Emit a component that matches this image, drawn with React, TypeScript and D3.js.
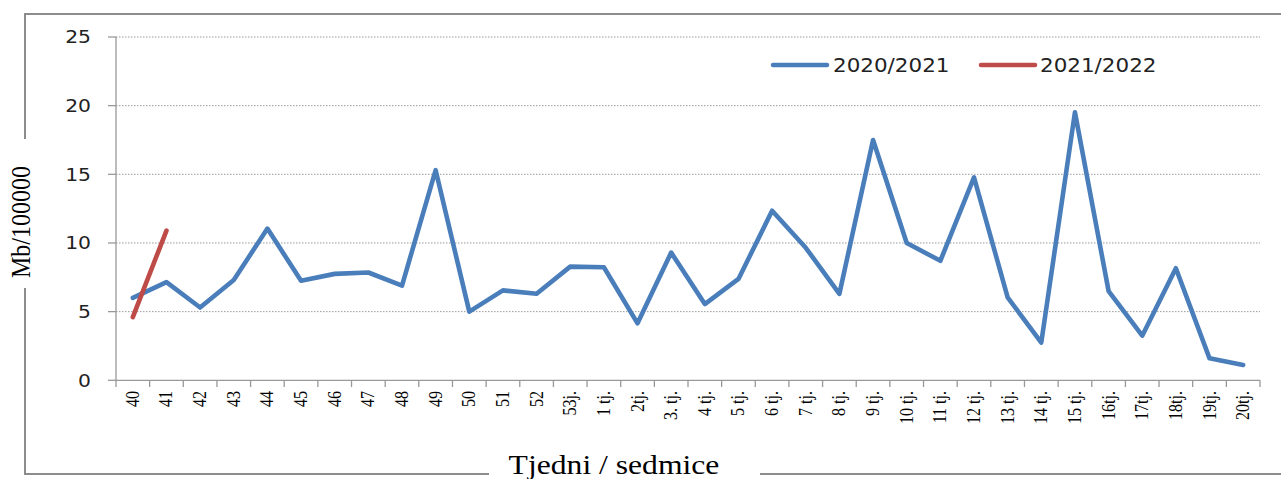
import React from "react";
import * as d3 from "d3";

const categories = [
  "40", "41", "42", "43", "44", "45", "46", "47", "48", "49", "50", "51", "52",
  "53j.", "1 tj.", "2tj.", "3. tj.", "4 tj.", "5 tj.", "6 tj.", "7 tj.", "8 tj.",
  "9 tj.", "10 tj.", "11 tj.", "12 tj.", "13 tj.", "14 tj.", "15 tj.", "16tj.",
  "17tj.", "18tj.", "19tj.", "20tj.",
];

const series2020 = [
  6.0, 7.15, 5.3, 7.3, 11.05, 7.25, 7.75, 7.85, 6.9, 15.3, 5.0, 6.55, 6.3,
  8.28, 8.23, 4.15, 9.3, 5.55, 7.38, 12.35, 9.65, 6.3, 17.5, 10.0, 8.7, 14.78,
  6.04, 2.75, 19.52, 6.5, 3.25, 8.16, 1.6, 1.12,
];

const series2021 = [4.6, 10.9];

const yTicks = [0, 5, 10, 15, 20, 25];

const seriesNames = ["2020/2021", "2021/2022"];

const BLUE = "#4A7EBB";
const RED = "#BE4B48";
const SX = 1.13;

export default function App() {
  const W = 1281;
  const H = 479;
  const left = 116;
  const right = 1260;
  const top = 37;
  const bottom = 380.3;

  const x = d3.scaleBand<string>().domain(categories).range([left, right]).padding(0);
  const y = d3.scaleLinear().domain([0, 25]).range([bottom, top]);
  const cx = (c: string) => (x(c) as number) + x.bandwidth() / 2;

  const line = d3
    .line<number>()
    .x((_, i) => cx(categories[i]))
    .y((v) => y(v));

  const boundaries = d3.range(categories.length + 1).map((i) => left + i * x.bandwidth());
  const frame = "#8c8c8c";

  return (
    <svg
      width={W}
      height={H}
      style={{ position: "absolute", left: 0, top: 0, background: "#fff" }}
    >
      {/* outer frame */}
      <line x1={25} y1={14} x2={W} y2={14} stroke={frame} strokeWidth={2} />
      <line x1={25} y1={13} x2={25} y2={139} stroke={frame} strokeWidth={2} />
      <line x1={25} y1={288} x2={25} y2={475} stroke={frame} strokeWidth={2} />
      <line x1={24} y1={474} x2={489} y2={474} stroke={frame} strokeWidth={2} />
      <line x1={760} y1={474} x2={W} y2={474} stroke={frame} strokeWidth={2} />

      {/* grid */}
      {yTicks.filter((t) => t > 0).map((t) => (
        <line
          key={"g" + t}
          x1={left}
          x2={right}
          y1={y(t)}
          y2={y(t)}
          stroke="#9a9a9a"
          strokeWidth={1}
          strokeDasharray="1.5,1.5"
        />
      ))}

      {/* y axis */}
      <line x1={left} x2={left} y1={top} y2={bottom} stroke="#999" strokeWidth={1.3} />
      {yTicks.map((t) => (
        <g key={"yt" + t}>
          <line x1={108} x2={left} y1={y(t)} y2={y(t)} stroke="#999" strokeWidth={1.3} />
          <g transform={`translate(91,${y(t)}) scale(${SX},1)`}>
            <text
              textAnchor="end"
              dy="0.36em"
              fontFamily="DejaVu Sans, Verdana, sans-serif"
              fontSize={18}
              fill="#222"
            >
              {t}
            </text>
          </g>
        </g>
      ))}

      {/* x axis */}
      <line x1={left} x2={right} y1={bottom} y2={bottom} stroke="#999" strokeWidth={1.3} />
      {boundaries.map((bx, i) => (
        <line key={"xt" + i} x1={bx} x2={bx} y1={bottom} y2={387} stroke="#999" strokeWidth={1.3} />
      ))}
      {categories.map((c) => (
        <g key={"xl" + c} transform={`translate(${cx(c)},391) scale(${SX},1) rotate(-90)`}>
          <text
            textAnchor="end"
            dy="0.33em"
            fontFamily="Liberation Serif, Times New Roman, serif"
            fontSize={16}
            fill="#000"
          >
            {c}
          </text>
        </g>
      ))}

      {/* series */}
      <path
        d={line(series2020) || ""}
        fill="none"
        stroke={BLUE}
        strokeWidth={4.6}
        strokeLinejoin="round"
        strokeLinecap="round"
      />
      <path
        d={line(series2021) || ""}
        fill="none"
        stroke={RED}
        strokeWidth={4.6}
        strokeLinejoin="round"
        strokeLinecap="round"
      />

      {/* legend */}
      <line x1={773} x2={827} y1={65} y2={65} stroke={BLUE} strokeWidth={4.5} strokeLinecap="round" />
      <g transform={`translate(833,65) scale(${SX},1)`}>
        <text dy="0.36em" fontFamily="DejaVu Sans, Verdana, sans-serif" fontSize={19} fill="#222">
          {seriesNames[0]}
        </text>
      </g>
      <line x1={981} x2={1035} y1={65} y2={65} stroke={RED} strokeWidth={4.5} strokeLinecap="round" />
      <g transform={`translate(1040,65) scale(${SX},1)`}>
        <text dy="0.36em" fontFamily="DejaVu Sans, Verdana, sans-serif" fontSize={19} fill="#222">
          {seriesNames[1]}
        </text>
      </g>

      {/* axis titles */}
      <g transform={`translate(30,222) scale(${SX},1) rotate(-90)`}>
        <text
          textAnchor="middle"
          fontFamily="Liberation Serif, Times New Roman, serif"
          fontSize={24}
          fill="#000"
        >
          Mb/100000
        </text>
      </g>
      <g transform={`translate(614,474) scale(${SX},1)`}>
        <text
          textAnchor="middle"
          fontFamily="Liberation Serif, Times New Roman, serif"
          fontSize={28}
          fill="#000"
        >
          Tjedni / sedmice
        </text>
      </g>
    </svg>
  );
}
